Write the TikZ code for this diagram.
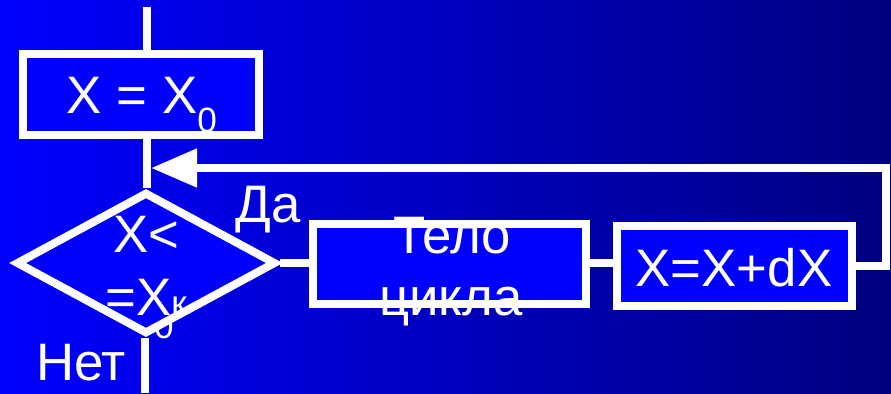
\documentclass[tikz,border=0pt]{standalone}
\usepackage{fontspec}
\setmainfont{Liberation Sans}
\usetikzlibrary{shapes.geometric,arrows.meta}
\definecolor{slideblue}{RGB}{0,0,255}
\definecolor{slidenavy}{RGB}{0,0,128}

\begin{document}
\begin{tikzpicture}[x=0.01cm, y=-0.01cm,
  wire/.style={white, line width=0.08cm},
  block/.style={draw=white, fill=slideblue, line width=0.08cm, inner sep=0pt},
  cond/.style={block, diamond, minimum width=2.6cm, minimum height=1.42cm},
  lbl/.style={white, font=\fontsize{15}{18}\selectfont, inner sep=0pt, anchor=base}]
%%%%% Background %%%%%
\useasboundingbox (0,0) rectangle (891,393);
\shade[left color=slideblue, right color=slidenavy] (0,0) rectangle (891,393);
%%%%% Blocks %%%%%
\node[block, minimum width=2.36cm, minimum height=0.81cm] (init) at (141,94.5) {};
\node[lbl, font=\fontsize{10}{10}\selectfont] (sub0) at (164,338) {0};
\node[cond] (check) at (146,263) {};
\node[block, minimum width=2.73cm, minimum height=0.8cm] (body) at (449.5,264) {};
\node[block, minimum width=2.35cm, minimum height=0.8cm] (incr) at (734.5,266) {};
%%%%% Connectors %%%%%
\coordinate (entry) at (147,7);
\coordinate (exit) at (145,393);
\coordinate (back) at (886,168);
\draw[wire] (entry) -- (entry |- init.north);
\draw[wire] (entry |- init.south) -- (entry |- check.north);
\draw[wire] (exit |- check.south) -- (exit);
\draw[wire] (check.east) -- (check.east -| body.west);
\draw[wire] (body.east |- check.east) -- (check.east -| incr.west);
\draw[wire, -{Triangle[length=0.46cm,width=0.37cm]}] (incr.east) -- (back |- incr.east) -- (back) -- ([xshift=0.04cm]back -| entry);
%%%%% Labels %%%%%
\node[lbl] (initlbl) at (142,113) {X = X\raisebox{-5.4pt}{\fontsize{10}{10}\selectfont 0}};
\node[lbl] (condtop) at (146,252) {X<};
\node[lbl] (condbot) at (146,315) {=X{\fontsize{10}{10}\selectfont к}};
\node[lbl] (yes) at (268,222) {Да};
\node[lbl] (no) at (81,380) {Нет};
\node[lbl] (bodytop) at (452,253) {Тело};
\node[lbl] (bodybot) at (451,315) {цикла};
\node[lbl] (incrlbl) at (734,286) {X=X+dX};
\end{tikzpicture}
\end{document}
